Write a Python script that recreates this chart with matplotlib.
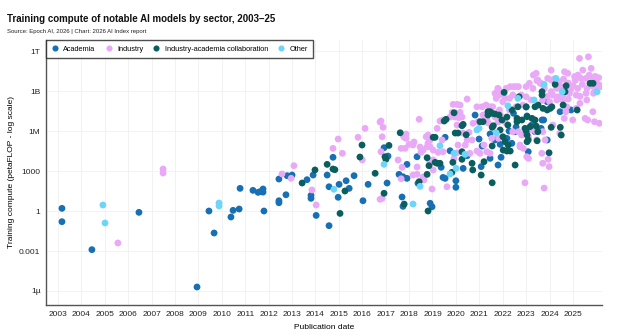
import matplotlib
matplotlib.use("Agg")
import matplotlib.pyplot as plt
from matplotlib.lines import Line2D
import numpy as np

plt.rcParams['font.family'] = ['Liberation Sans', 'DejaVu Sans']

# (publication year, log10 training compute in petaFLOP)
academia = [
    (2003.17, 0.2), (2003.17, -0.8), (2004.45, -2.9), (2006.46, -0.1), (2008.94, -5.7),
    (2009.45, 0.0), (2009.67, -1.65), (2010.39, -0.45), (2010.48, 0.05), (2010.74, 0.15),
    (2010.78, 1.7), (2011.33, 1.55), (2011.55, 1.4), (2011.76, 1.65), (2011.76, 1.42),
    (2011.63, 1.45), (2011.80, 0.0), (2012.44, 0.77), (2012.44, 0.62), (2012.44, 2.4),
    (2012.74, 1.22), (2012.79, 2.65), (2013.00, 2.7), (2013.64, 2.35), (2013.81, 1.17),
    (2013.81, 0.95), (2014.03, -0.33), (2013.90, 2.7), (2014.50, 2.7), (2014.75, 4.03),
    (2014.58, 1.82), (2014.58, -1.1), (2014.97, 1.03), (2015.01, 2.0), (2015.31, 2.27),
    (2015.44, 1.7), (2015.65, 2.65), (2016.03, 0.77), (2016.25, 2.0), (2016.93, 4.75),
    (2017.10, 4.12), (2017.06, 2.1), (2017.70, 1.05), (2017.74, 0.35), (2017.91, 3.5),
    (2017.57, 2.75), (2017.74, 2.57), (2017.91, 2.45), (2018.98, 0.32), (2018.34, 4.07),
    (2018.38, 2.08), (2019.54, 5.53), (2019.75, 4.52), (2020.48, 4.15), (2019.37, 3.28),
    (2020.31, 3.2), (2021.08, 3.33), (2020.99, 5.4), (2021.12, 4.87), (2019.45, 2.52),
    (2019.54, 2.45), (2020.00, 2.27), (2020.00, 1.78), (2020.82, 7.2), (2022.27, 6.0),
    (2022.53, 5.95), (2023.04, 5.95), (2023.04, 7.13), (2023.68, 6.83), (2021.89, 5.0),
    (2021.93, 4.03), (2021.80, 3.45), (2021.46, 3.95), (2023.09, 4.45), (2021.46, 5.78),
    (2023.90, 8.2), (2024.92, 7.58), (2023.75, 6.83), (2023.64, 6.2), (2023.90, 5.33),
    (2023.00, 7.8), (2022.57, 6.3), (2021.67, 5.33), (2022.18, 5.45), (2022.39, 5.08),
    (2022.46, 7.33), (2023.24, 6.45), (2023.38, 5.95), (2023.60, 6.08), (2024.45, 7.45),
    (2018.90, 0.58), (2018.90, 3.7),
]

industry = [
    (2005.56, -2.4), (2007.49, 3.15), (2007.49, 2.85), (2012.57, 2.78), (2012.96, 2.45),
    (2013.08, 3.4), (2013.85, 1.58), (2014.03, 0.45), (2014.75, 4.7), (2014.97, 5.4),
    (2015.15, 4.33), (2016.0, 3.83), (2015.82, 5.53), (2016.12, 6.2), (2016.8, 6.75),
    (2016.89, 6.28), (2016.85, 5.57), (2016.8, 4.45), (2016.85, 0.95), (2016.76, 0.88),
    (2017.87, 5.77), (2017.79, 5.53), (2017.87, 5.45), (2017.66, 4.7), (2017.53, 3.83),
    (2017.7, 3.28), (2017.66, 2.42), (2018.0, 5.0), (2018.21, 5.18), (2018.43, 6.88),
    (2018.17, 2.7), (2018.34, 2.75), (2018.6, 2.55), (2018.64, 2.33), (2018.98, 1.65),
    (2018.51, 4.4), (2018.6, 4.57), (2018.77, 4.82), (2018.81, 5.08), (2018.9, 4.82),
    (2018.73, 5.57), (2018.81, 5.7), (2018.85, 5.38),
    (2020.48, 8.4), (2019.88, 8.0), (2020.05, 8.0), (2020.18, 7.95), (2019.84, 7.4),
    (2020.0, 7.35), (2020.18, 7.4), (2019.75, 7.05), (2019.96, 7.05), (2020.13, 7.0),
    (2020.26, 7.05), (2019.2, 6.2), (2020.56, 5.9), (2020.69, 5.33), (2020.73, 6.58),
    (2019.41, 5.33), (2019.24, 4.4), (2019.45, 4.45), (2020.09, 4.95), (2019.92, 3.95),
    (2020.05, 4.37), (2020.6, 4.33), (2019.03, 3.08), (2020.9, 4.5), (2021.03, 4.33),
    (2021.2, 4.95), (2019.62, 1.82), (2020.9, 7.82), (2021.12, 7.82), (2021.16, 7.2),
    (2020.95, 6.7), (2019.32, 6.75), (2019.45, 6.83), (2016.76, 6.68), (2017.74, 5.7),
    (2018.9, 5.33), (2018.47, 4.8), (2017.83, 4.7), (2018.17, 4.95), (2019.03, 4.57),
    (2020.4, 4.95), (2020.48, 5.33), (2020.05, 6.45), (2020.3, 5.85), (2019.03, 3.83),
    (2018.9, 3.6), (2018.34, 3.3),
    (2023.31, 10.2), (2023.46, 9.78), (2023.6, 9.58), (2022.67, 9.33), (2022.32, 9.33),
    (2022.46, 9.33), (2021.82, 9.13), (2021.67, 8.83),
    (2025.28, 11.45), (2025.66, 11.57), (2025.42, 10.57), (2025.78, 10.7), (2024.07, 10.57),
    (2024.64, 10.45), (2024.78, 10.33), (2025.07, 10.08), (2025.21, 10.2), (2025.35, 9.95),
    (2025.56, 9.95), (2025.85, 9.95), (2025.99, 9.7), (2026.13, 9.45), (2023.43, 10.33),
    (2023.5, 9.83), (2023.64, 9.58), (2023.92, 9.95), (2024.07, 9.83), (2024.28, 9.58),
    (2024.42, 9.7), (2023.14, 9.58), (2023.0, 9.33), (2023.29, 9.2), (2023.78, 9.2),
    (2024.07, 8.95), (2022.57, 9.33), (2022.15, 9.2), (2021.79, 9.2), (2021.86, 8.7),
    (2021.72, 8.45), (2022.0, 8.2), (2022.29, 8.45), (2022.43, 8.7), (2022.79, 8.7),
    (2023.0, 8.57), (2023.21, 8.33), (2024.57, 8.7), (2024.85, 8.83), (2025.14, 8.7),
    (2025.56, 8.83), (2025.92, 8.95), (2026.2, 9.33), (2024.14, 8.7), (2024.35, 8.57),
    (2021.29, 7.95), (2021.57, 7.82), (2021.86, 7.58), (2022.29, 7.58), (2022.57, 7.82),
    (2022.86, 7.95), (2024.57, 8.33), (2025.14, 7.7), (2025.85, 7.45), (2024.7, 7.45),
    (2024.63, 6.95), (2023.21, 6.08), (2023.43, 5.95), (2023.71, 5.95), (2022.43, 5.95),
    (2024.14, 6.45), (2024.99, 6.83), (2025.63, 6.83), (2025.92, 6.7), (2026.13, 6.58),
    (2024.44, 5.83), (2023.94, 3.88), (2023.71, 3.58), (2023.98, 3.33), (2023.77, 1.72),
    (2022.95, 2.12), (2023.1, 3.95), (2022.74, 4.82), (2022.88, 4.7),
    (2021.33, 6.83), (2021.38, 6.6), (2021.8, 6.68), (2022.1, 6.68), (2021.9, 7.2),
    (2021.67, 7.05), (2021.53, 5.45), (2021.82, 5.45), (2021.32, 4.45), (2021.46, 4.33),
    (2022.67, 5.95), (2022.81, 5.7), (2021.46, 7.82), (2022.1, 8.45),
    (2023.03, 4.07), (2023.67, 4.33), (2023.45, 5.33), (2023.81, 5.33), (2022.74, 4.95),
    (2023.1, 5.57), (2025.52, 6.95), (2024.74, 7.82), (2024.31, 8.33), (2025.3, 8.08),
    (2025.59, 8.33), (2025.88, 8.83), (2026.02, 9.33),
    (2024.5, 9.3), (2024.8, 9.6), (2025.0, 9.4), (2025.2, 9.2), (2025.4, 9.5),
    (2025.6, 9.2), (2025.8, 9.4), (2025.1, 9.8), (2024.9, 9.1), (2024.3, 9.2),
    (2024.6, 9.9), (2025.7, 10.2), (2025.95, 10.1), (2026.1, 10.0), (2025.3, 8.6),
    (2024.8, 8.4), (2024.2, 9.9), (2023.9, 8.6), (2023.7, 8.3), (2024.0, 8.2),
]

collaboration = [
    (2013.43, 2.1), (2013.98, 3.08), (2014.5, 3.5), (2014.75, 3.15), (2014.83, 3.1),
    (2015.05, -0.18), (2015.26, 1.5), (2015.9, 4.05), (2015.99, 4.95), (2016.55, 2.83),
    (2017.14, 4.92), (2016.97, 4.07), (2017.01, 3.88), (2016.93, 1.33), (2017.79, 0.52),
    (2018.81, 0.0), (2017.62, 5.87), (2018.77, 2.75), (2018.77, 4.0), (2018.85, 3.4),
    (2019.03, 5.53), (2018.43, 2.2), (2019.92, 7.37), (2019.5, 6.75), (2019.58, 6.88),
    (2020.26, 6.4), (2020.31, 6.5), (2019.97, 5.85), (2020.09, 5.85), (2020.44, 5.72),
    (2019.11, 5.53), (2020.26, 4.45), (2020.26, 3.88), (2019.11, 3.65), (2019.2, 3.58),
    (2019.32, 3.58), (2019.87, 3.65), (2020.69, 3.58), (2021.2, 3.7), (2021.08, 2.7),
    (2019.83, 2.9), (2021.03, 6.7), (2021.16, 6.7), (2021.37, 7.45), (2022.06, 8.9),
    (2022.4, 7.58), (2022.65, 7.82), (2023.0, 7.82), (2023.38, 7.82), (2023.51, 7.95),
    (2021.46, 7.45), (2021.55, 7.33), (2021.37, 7.2), (2021.67, 7.28), (2021.97, 6.83),
    (2022.61, 6.95), (2022.61, 6.7), (2023.04, 7.08), (2023.25, 6.95), (2023.38, 6.83),
    (2021.55, 6.28), (2021.89, 6.08), (2022.22, 6.45), (2022.95, 6.2), (2023.17, 6.33),
    (2023.04, 5.7), (2023.09, 5.33), (2023.04, 5.2), (2023.47, 5.27), (2022.01, 5.57),
    (2022.23, 4.95), (2022.1, 5.2), (2022.18, 4.5), (2022.32, 4.5), (2022.02, 4.57),
    (2021.55, 4.88), (2022.53, 3.45), (2021.55, 2.12), (2024.24, 9.5), (2024.71, 9.4),
    (2025.73, 9.58), (2025.86, 9.58), (2024.66, 8.95), (2023.68, 8.95), (2023.68, 8.7),
    (2023.72, 7.7), (2023.9, 7.58), (2024.03, 7.7), (2024.1, 7.82), (2024.58, 7.95),
    (2025.18, 7.58), (2024.07, 6.28), (2024.46, 6.28), (2024.5, 5.7), (2023.98, 4.37),
    (2022.7, 8.57), (2021.84, 7.2), (2022.18, 7.05), (2022.82, 6.83), (2021.6, 6.4),
    (2023.43, 6.37), (2023.0, 6.0), (2023.5, 5.95), (2020.72, 3.08),
]

other = [
    (2004.92, 0.45), (2005.01, -0.9), (2009.88, 0.6), (2009.88, 0.38), (2014.79, 1.63),
    (2016.93, 3.5), (2018.17, 0.52), (2018.47, 1.85), (2019.32, 4.9), (2019.92, 4.33),
    (2020.39, 4.25), (2020.01, 3.2), (2019.75, 2.78), (2020.9, 6.08), (2020.99, 6.2),
    (2023.77, 9.5), (2022.65, 8.45), (2023.34, 8.33), (2022.22, 7.9), (2021.72, 5.87),
    (2024.27, 9.95), (2024.54, 8.95), (2026.03, 8.95),
]

sectors = ["Academia", "Industry", "Industry-academia collaboration", "Other"]
colors = ["#1870b4", "#e9a9f7", "#0b5e5e", "#6dd6f8"]
series = [academia, industry, collaboration, other]
draw_order = [1, 0, 2, 3]

years = list(range(2003, 2026))
ytick_vals = [1e-6, 1e-3, 1, 1e3, 1e6, 1e9, 1e12]
ytick_labels = ["1µ", "0.001", "1", "1000", "1M", "1B", "1T"]

fig = plt.figure(figsize=(6.42, 3.35), dpi=100)
ax = fig.add_axes([0.0717, 0.0896, 0.8663, 0.791])

for i in draw_order:
    data = np.array(series[i])
    ax.scatter(data[:, 0], 10 ** data[:, 1], s=24, color=colors[i],
               edgecolors='none', zorder=3 + i)

ax.set_yscale('log')
ax.set_xlim(2002.49, 2026.25)
ax.set_ylim(10 ** -7.05, 10 ** 12.83)
ax.set_xticks(years)
ax.set_xticklabels([str(y) for y in years], fontsize=6)
ax.set_yticks(ytick_vals)
ax.set_yticklabels(ytick_labels, fontsize=6)
ax.yaxis.set_minor_locator(matplotlib.ticker.NullLocator())
ax.tick_params(axis='both', length=0, pad=4, colors='#222222')
ax.grid(True, color='#f0f0f0', linewidth=0.6, zorder=0)
ax.set_axisbelow(True)
for s in ['top', 'right']:
    ax.spines[s].set_visible(False)
for s in ['left', 'bottom']:
    ax.spines[s].set_color('#555555')
    ax.spines[s].set_linewidth(1.0)

ax.set_xlabel("Publication date", fontsize=6, labelpad=5)
ax.set_ylabel("Training compute (petaFLOP - log scale)", fontsize=6)
ax.yaxis.set_label_coords(-0.056, 0.5)

handles = [Line2D([0], [0], marker='o', linestyle='none', markersize=4.4,
                  markerfacecolor=c, markeredgecolor='none') for c in colors]
leg = ax.legend(handles, sectors, loc='upper left', bbox_to_anchor=(0.0, 1.0),
                ncol=4, fontsize=5.3, frameon=True, fancybox=False,
                borderaxespad=0.0, columnspacing=1.3, handletextpad=0.6,
                borderpad=0.75, handlelength=1.0)
leg.get_frame().set_edgecolor('#222222')
leg.get_frame().set_linewidth(1.0)
leg.set_zorder(20)

fig.text(0.011, 0.943, "Training compute of notable AI models by sector, 2003–25",
         fontsize=7.0, fontweight='bold', va='center', ha='left', color='#111111')
fig.text(0.011, 0.907, "Source: Epoch AI, 2026 | Chart: 2026 AI Index report",
         fontsize=4.3, va='center', ha='left', color='#222222')

fig.savefig("out.png", dpi=100)
